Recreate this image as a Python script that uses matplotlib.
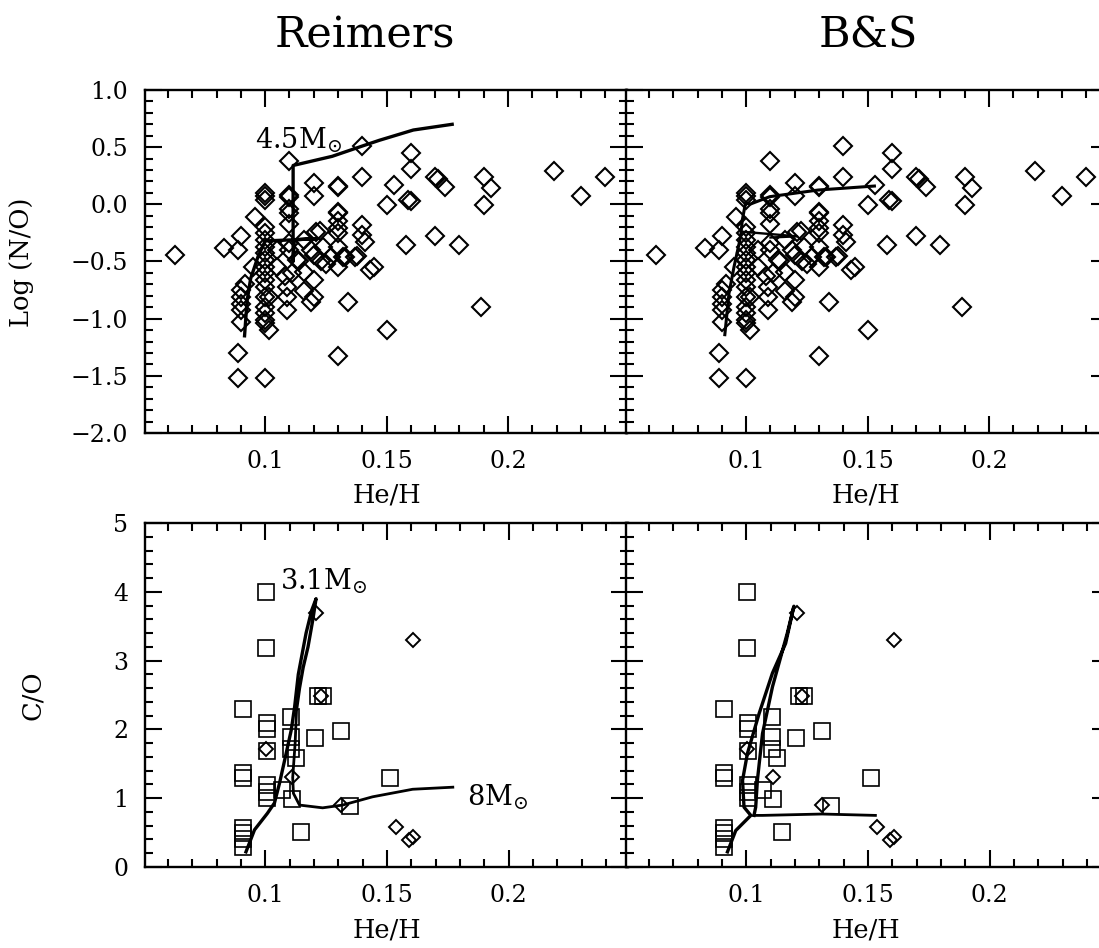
import matplotlib.pyplot as plt
from matplotlib.ticker import MultipleLocator, FixedLocator, FuncFormatter

plt.rcParams['font.family'] = 'DejaVu Serif'
plt.rcParams['mathtext.fontset'] = 'dejavuserif'

# observed nebulae, N/O vs He/H (same points in both top panels)
he_no = [0.063, 0.083, 0.090, 0.089, 0.110, 0.140, 0.160, 0.160, 0.140, 0.120,
         0.120, 0.130, 0.130, 0.153, 0.150, 0.170, 0.171, 0.174, 0.190, 0.193,
         0.190, 0.219, 0.230, 0.240, 0.159, 0.160, 0.158, 0.170, 0.180, 0.189,
         0.150, 0.130, 0.134, 0.143, 0.145, 0.089, 0.089, 0.100, 0.1015, 0.096,
         0.100, 0.100, 0.100, 0.110, 0.110, 0.110, 0.110, 0.110, 0.116, 0.121,
         0.130, 0.130, 0.130, 0.130, 0.140, 0.140, 0.141, 0.124, 0.123, 0.130,
         0.132, 0.137, 0.130, 0.120, 0.114, 0.116, 0.120, 0.120, 0.119, 0.116,
         0.109, 0.109, 0.109, 0.111, 0.108, 0.105, 0.105, 0.110, 0.110, 0.113,
         0.100, 0.100, 0.100, 0.100, 0.100, 0.100, 0.100, 0.100, 0.100, 0.100,
         0.100, 0.100, 0.100, 0.100, 0.100, 0.1015,
         0.090, 0.090, 0.090, 0.090, 0.090, 0.0915, 0.095,
         0.1226, 0.127, 0.125, 0.133, 0.138, 0.119, 0.130]
log_no = [-0.44, -0.38, -0.28, -0.40, 0.38, 0.51, 0.45, 0.31, 0.24, 0.19,
          0.07, 0.16, 0.15, 0.17, -0.01, 0.24, 0.22, 0.15, 0.24, 0.14,
          -0.01, 0.29, 0.07, 0.24, 0.04, 0.03, -0.36, -0.28, -0.36, -0.90,
          -1.10, -1.33, -0.85, -0.57, -0.55, -1.30, -1.52, -1.52, -1.10, -0.11,
          0.10, 0.07, 0.04, 0.08, 0.06, -0.04, -0.08, -0.17, -0.31, -0.24,
          -0.08, -0.15, -0.21, -0.25, -0.18, -0.27, -0.33, -0.37, -0.50, -0.37,
          -0.46, -0.46, -0.55, -0.44, -0.50, -0.59, -0.66, -0.81, -0.85, -0.76,
          -0.92, -0.81, -0.72, -0.60, -0.63, -0.55, -0.40, -0.40, -0.34, -0.49,
          -0.20, -0.25, -0.31, -0.37, -0.43, -0.49, -0.55, -0.60, -0.66, -0.72,
          -0.81, -0.90, -0.95, -1.01, -1.04, -0.81,
          -0.75, -0.81, -0.87, -0.92, -1.03, -0.70, -0.55,
          -0.23, -0.46, -0.52, -0.46, -0.45, -0.40, -0.07]

# C/O vs He/H (bottom panels): squares and diamonds
he_sq = [0.1004, 0.1004, 0.0906, 0.1008, 0.1008, 0.1107, 0.1107, 0.1107, 0.1205, 0.1309,
         0.1127, 0.1008, 0.0906, 0.0906, 0.1008, 0.1008, 0.1008, 0.1066, 0.1109, 0.151,
         0.1346, 0.1148, 0.0908, 0.0908, 0.0908, 0.0908, 0.1216, 0.1236]
co_sq = [4.00, 3.18, 2.29, 2.10, 2.00, 2.18, 1.89, 1.72, 1.88, 1.98,
         1.58, 1.69, 1.36, 1.29, 1.19, 1.09, 1.00, 1.12, 0.99, 1.29,
         0.88, 0.51, 0.56, 0.49, 0.41, 0.29, 2.49, 2.49]
he_dm = [0.1209, 0.1605, 0.1004, 0.1109, 0.1309, 0.1227, 0.1537, 0.1592, 0.1605]
co_dm = [3.69, 3.30, 1.71, 1.31, 0.90, 2.49, 0.58, 0.39, 0.44]

# model tracks, Reimers mass loss
reim_no_he = [0.0915, 0.0925, 0.094, 0.097, 0.100, 0.112, 0.121, 0.112, 0.1115,
              0.1115, 0.1115, 0.1276, 0.140, 0.147, 0.161, 0.177]
reim_no = [-1.15, -0.85, -0.65, -0.46, -0.32, -0.31, -0.30, -0.31, -0.50,
           -0.10, 0.34, 0.42, 0.51, 0.56, 0.65, 0.70]
reim31_he = [0.092, 0.0955, 0.1008, 0.1037, 0.1058, 0.1085, 0.1106, 0.112, 0.1135,
             0.1167, 0.119, 0.1208, 0.1195, 0.1175, 0.1155, 0.1140, 0.1128]
reim31_co = [0.22, 0.54, 0.78, 0.93, 1.22, 1.65, 1.99, 2.33, 2.8,
             3.4, 3.73, 3.9, 3.6, 3.2, 2.9, 2.6, 2.3]
reim8_he = [0.1128, 0.1122, 0.1112, 0.1115, 0.114, 0.1235, 0.1317, 0.144, 0.1605, 0.177]
reim8_co = [2.3, 1.8, 1.3, 1.07, 0.9, 0.86, 0.9, 1.02, 1.13, 1.16]

# model tracks, B&S mass loss
bs_no_he = [0.0912, 0.0929, 0.095, 0.0977, 0.0984, 0.0997, 0.1018, 0.1097, 0.1196, 0.1296, 0.1528]
bs_no = [-1.14, -0.78, -0.545, -0.283, -0.137, 0.01, 0.003, 0.067, 0.096, 0.125, 0.16]
bs_br_he = [0.0985, 0.110, 0.121, 0.110]
bs_br_no = [-0.24, -0.26, -0.28, -0.29]
bs31_he = [0.0922, 0.0956, 0.1018, 0.099, 0.0984, 0.1004, 0.1052, 0.1107, 0.1161, 0.1195,
           0.1168, 0.1107, 0.1066, 0.1045, 0.1038, 0.1031]
bs31_co = [0.22, 0.53, 0.75, 0.87, 1.26, 1.65, 2.23, 2.82, 3.25, 3.79,
           3.4, 2.62, 1.94, 1.26, 0.87, 0.75]
bs8_he = [0.1031, 0.1066, 0.1311, 0.153]
bs8_co = [0.75, 0.75, 0.77, 0.75]

W, H = 1099, 948
fig = plt.figure(figsize=(W / 100, H / 100), dpi=100)


def ax_at(x0, y0, x1, y1):
    return fig.add_axes([x0 / W, 1 - y1 / H, (x1 - x0) / W, (y1 - y0) / H])


def style(ax, ylim, ymaj, ymin, fmt, show_y):
    ax.set_xlim(0.0505, 0.249)
    ax.set_ylim(*ylim)
    ax.xaxis.set_major_locator(FixedLocator([0.1, 0.15, 0.2]))
    ax.xaxis.set_minor_locator(MultipleLocator(0.01))
    ax.xaxis.set_major_formatter(FuncFormatter(lambda v, p: f'{v:g}'))
    ax.yaxis.set_major_locator(MultipleLocator(ymaj))
    ax.yaxis.set_minor_locator(MultipleLocator(ymin))
    ax.yaxis.set_major_formatter(FuncFormatter(lambda v, p: fmt(v).replace('-', '\u2212')))
    ax.tick_params(which='both', direction='in', top=True, right=True, width=1.5,
                   labelsize=17, pad=12)
    ax.tick_params(which='major', length=12)
    ax.tick_params(which='minor', length=6)
    if not show_y:
        ax.tick_params(labelleft=False)
    for s in ax.spines.values():
        s.set_linewidth(1.7)


def f1(v):
    return f'{v:.1f}'


def f0(v):
    return f'{v:.0f}'


dkw = dict(ls='none', marker='D', ms=8.8, mfc='none', mec='black', mew=1.5)
skw = dict(ls='none', marker='s', ms=11, mfc='none', mec='black', mew=1.2)
dkw2 = dict(ls='none', marker='D', ms=7.5, mfc='none', mec='black', mew=1.4)

axes = {
    'tl': ax_at(145, 90, 627, 433),
    'tr': ax_at(626, 90, 1108, 433),
    'bl': ax_at(145, 523, 628, 867),
    'br': ax_at(626, 523, 1109, 867),
}

for key in ['tl', 'tr']:
    ax = axes[key]
    style(ax, (-2.0, 1.0), 0.5, 0.1, f1, key == 'tl')
    ax.plot(he_no, log_no, **dkw)

for key in ['bl', 'br']:
    ax = axes[key]
    style(ax, (0, 5), 1, 0.2, f0, key == 'bl')
    ax.plot(he_sq, co_sq, **skw)
    ax.plot(he_dm, co_dm, **dkw2)

axes['tl'].plot(reim_no_he, reim_no, color='black', lw=2.4)
axes['tr'].plot(bs_no_he, bs_no, color='black', lw=2.2)
axes['tr'].plot(bs_br_he, bs_br_no, color='black', lw=1.7)
axes['bl'].plot(reim31_he, reim31_co, color='black', lw=2.4)
axes['bl'].plot(reim8_he, reim8_co, color='black', lw=2.0)
axes['br'].plot(bs31_he, bs31_co, color='black', lw=2.4)
axes['br'].plot(bs8_he, bs8_co, color='black', lw=2.0)

axes['tl'].text(0.0958, 0.49, r'4.5M$_{\odot}$', fontsize=19.5, va='baseline')
axes['bl'].text(0.106, 4.03, r'3.1M$_{\odot}$', fontsize=19.5, va='baseline')
axes['bl'].text(0.183, 0.90, r'8M$_{\odot}$', fontsize=19.5, va='baseline')

fig.text(365 / W, 1 - 36 / H, 'Reimers', fontsize=31, ha='center', va='center')
fig.text(868 / W, 1 - 36 / H, 'B&S', fontsize=31, ha='center', va='center')
fig.text(387 / W, 1 - 495 / H, 'He/H', fontsize=18.5, ha='center', va='center')
fig.text(866 / W, 1 - 495 / H, 'He/H', fontsize=18.5, ha='center', va='center')
fig.text(387 / W, 1 - 930 / H, 'He/H', fontsize=18.5, ha='center', va='center')
fig.text(866 / W, 1 - 930 / H, 'He/H', fontsize=18.5, ha='center', va='center')
fig.text(22 / W, 1 - 262 / H, 'Log (N/O)', fontsize=18.5, rotation=90, ha='center', va='center')
fig.text(32 / W, 1 - 695 / H, 'C/O', fontsize=18.5, rotation=90, ha='center', va='center')

fig.savefig('out.png', dpi=100)
